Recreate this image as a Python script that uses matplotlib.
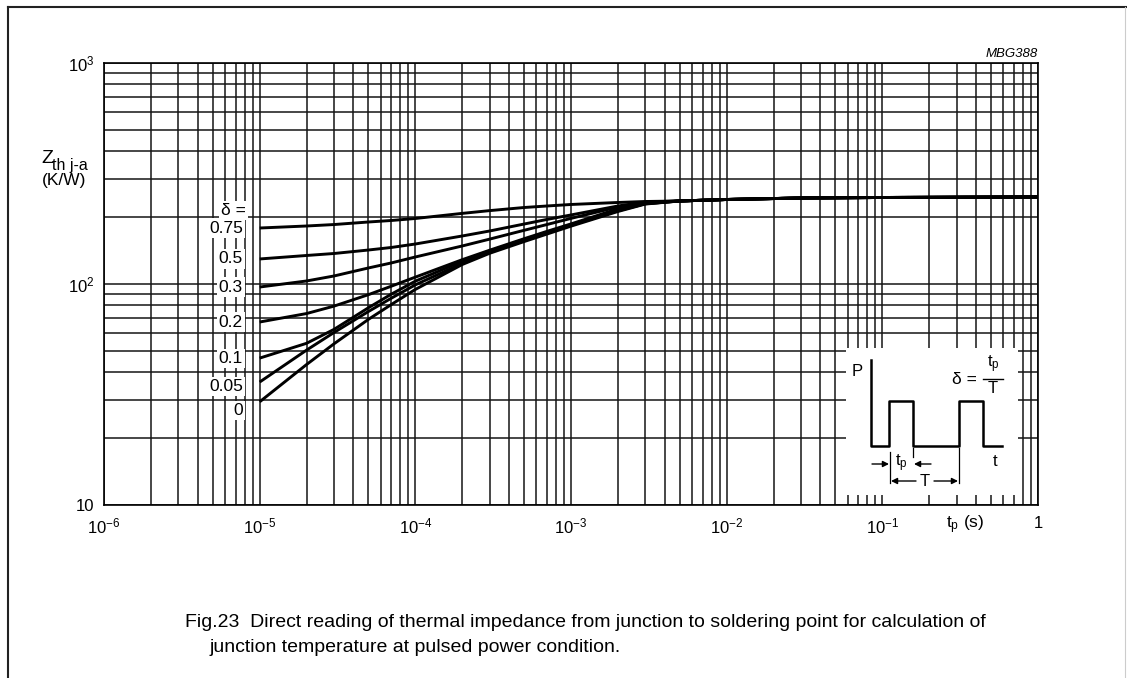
import numpy as np
import matplotlib
matplotlib.use('Agg')
import matplotlib.pyplot as plt
from matplotlib.ticker import LogLocator, NullFormatter
from matplotlib.lines import Line2D

plt.rcParams['font.family'] = ['Liberation Sans', 'DejaVu Sans']
plt.rcParams['mathtext.fontset'] = 'custom'
plt.rcParams['mathtext.rm'] = 'Liberation Sans'
plt.rcParams['mathtext.it'] = 'Liberation Sans:italic'

# pulse time (s) and Zth j-a (K/W) for each duty cycle
tp = [1e-5, 2e-5, 3e-5, 5e-5, 7e-5, 1e-4, 2e-4, 3e-4, 5e-4, 7e-4,
      1e-3, 2e-3, 3e-3, 5e-3, 1e-2, 3e-2, 1e-1, 1.0]
tail = [237.5, 241.2, 245.0, 246.3, 247.6]
z_075 = [179.2, 183.0, 185.8, 190.8, 193.8, 197.9, 208.7, 214.8, 221.9, 225.4, 229.0, 233.8, 236.2] + tail
z_05 = [129.8, 134.6, 137.4, 142.5, 146.3, 151.7, 164.9, 173.7, 186.8, 195.9, 205.3, 225.4, 235.0] + tail
z_03 = [96.9, 103.2, 108.7, 118.2, 124.5, 132.5, 148.6, 159.6, 175.0, 185.8, 198.1, 223.1, 233.8] + tail
z_02 = [67.3, 73.5, 79.4, 89.5, 97.7, 107.4, 128.8, 142.2, 160.3, 173.0, 187.0, 218.8, 232.3] + tail
z_01 = [46.2, 53.9, 62.3, 78.1, 89.9, 103.0, 126.8, 140.9, 157.6, 171.0, 185.5, 215.5, 231.0] + tail
z_005 = [36.0, 50.2, 60.3, 75.1, 86.2, 99.1, 124.0, 139.6, 157.4, 170.2, 184.5, 214.3, 230.7] + tail
z_0 = [29.3, 43.2, 53.6, 69.2, 80.7, 94.5, 122.5, 137.7, 155.6, 168.2, 182.7, 212.8, 230.0] + tail

curves = [z_075, z_05, z_03, z_02, z_01, z_005, z_0]
delta_labels = ['0.75', '0.5', '0.3', '0.2', '0.1', '0.05', '0']
label_shift = [0, 0, 0, 0, 0, -3, -6]

xticks = [1e-6, 1e-5, 1e-4, 1e-3, 1e-2, 1e-1, 1]
xlabels = [r'$\mathregular{10^{-6}}$', r'$\mathregular{10^{-5}}$', r'$\mathregular{10^{-4}}$',
           r'$\mathregular{10^{-3}}$', r'$\mathregular{10^{-2}}$', r'$\mathregular{10^{-1}}$', '1']
yticks = [10, 100, 1000]
ylabels = ['10', r'$\mathregular{10^{2}}$', r'$\mathregular{10^{3}}$']

# schematic of the pulse train in the inset (inset units)
pulse_x = [871, 871, 889, 889, 913, 913, 959, 959, 983, 983, 1002]
pulse_y = [360, 446, 446, 401, 401, 446, 446, 401, 401, 446, 446]

W, H = 1127, 678
fig = plt.figure(figsize=(W / 100, H / 100), dpi=100)


def fx(px):
    return px / W


def fy(py):
    return 1 - py / H


ax = fig.add_axes([fx(104), fy(505), fx(1038) - fx(104), fy(63) - fy(505)])
ax.set_xscale('log')
ax.set_yscale('log')
ax.set_xlim(1e-6, 1)
ax.set_ylim(10, 1000)
for axis in (ax.xaxis, ax.yaxis):
    axis.set_minor_locator(LogLocator(base=10, subs=np.arange(2, 10), numticks=100))
    axis.set_minor_formatter(NullFormatter())
ax.set_xticks(xticks, xlabels)
ax.set_yticks(yticks, ylabels)
ax.tick_params(which='both', length=0, labelsize=12)
ax.tick_params(axis='x', pad=8)
ax.tick_params(axis='y', pad=7)
ax.grid(which='both', color='#151515', lw=1.1)
ax.set_axisbelow(True)
for s in ax.spines.values():
    s.set_linewidth(1.2)

for z in curves:
    ax.plot(tp, z, color='k', lw=2.1, solid_capstyle='butt', solid_joinstyle='round')

lab_x = 7.8e-6
box = dict(facecolor='white', edgecolor='none', pad=1.5)
ax.annotate('δ =', xy=(lab_x, 216), xytext=(2, 0), textcoords='offset points',
            ha='right', va='center', fontsize=12.5, bbox=box)
for z, lab, dy in zip(curves, delta_labels, label_shift):
    ax.annotate(lab, xy=(lab_x, z[0]), xytext=(0, dy), textcoords='offset points',
                ha='right', va='center', fontsize=12.5, bbox=box)

# inset with the pulse definition
ax_in = fig.add_axes([fx(846), fy(495), fx(1018) - fx(846), fy(348) - fy(495)])
ax_in.set_xlim(846, 1018)
ax_in.set_ylim(495, 348)
ax_in.set_facecolor('white')
ax_in.set_xticks([])
ax_in.set_yticks([])
for s in ax_in.spines.values():
    s.set_visible(False)
ax_in.plot(pulse_x, pulse_y, color='k', lw=1.8)
ax_in.text(857, 372, 'P', ha='center', va='center', fontsize=12)
ax_in.text(995, 462, 't', ha='center', va='center', fontsize=12)
ax_in.text(977, 380, 'δ =', ha='right', va='center', fontsize=12.5)
ax_in.plot([983, 1003], [379, 379], color='k', lw=1)
ax_in.text(993, 375, r'$\mathregular{t_p}$', ha='center', va='bottom', fontsize=12)
ax_in.text(993, 381, 'T', ha='center', va='top', fontsize=12)
ax_in.plot([890, 890], [452, 483], color='k', lw=0.9)
ax_in.plot([913, 913], [448, 457], color='k', lw=0.9)
ax_in.plot([959, 959], [448, 483], color='k', lw=0.9)
arr = dict(arrowstyle='-|>', color='k', lw=1.0, mutation_scale=9, shrinkA=0, shrinkB=0)
ax_in.annotate('', xy=(889, 464), xytext=(872, 464), arrowprops=arr)
ax_in.annotate('', xy=(914, 464), xytext=(931, 464), arrowprops=arr)
ax_in.text(901, 463, r'$\mathregular{t_p}$', ha='center', va='center', fontsize=12)
ax_in.annotate('', xy=(891, 481), xytext=(916, 481), arrowprops=arr)
ax_in.annotate('', xy=(958, 481), xytext=(934, 481), arrowprops=arr)
ax_in.text(925, 481, 'T', ha='center', va='center', fontsize=12)

# axis titles
fig.text(fx(41), fy(163), 'Z', ha='left', va='baseline', fontsize=14)
fig.text(fx(52), fy(170), 'th j-a', ha='left', va='baseline', fontsize=11.5)
fig.text(fx(42), fy(185), '(K/W)', ha='left', va='baseline', fontsize=12.5)
fig.text(fx(946), fy(525), r'$\mathregular{t_p}$ (s)', ha='left', va='center', fontsize=12.5)
fig.text(fx(1038), fy(57), 'MBG388', ha='right', va='baseline', fontsize=9.5,
         style='italic')

# caption
fig.text(fx(185), fy(627), 'Fig.23  Direct reading of thermal impedance from junction to soldering point for calculation of',
         ha='left', va='baseline', fontsize=14)
fig.text(fx(210), fy(652), 'junction temperature at pulsed power condition.',
         ha='left', va='baseline', fontsize=14)

# page frame
fig.add_artist(Line2D([fx(8), fx(8)], [fy(7), 0], color='#222222', lw=1.5))
fig.add_artist(Line2D([fx(8), 1], [fy(7), fy(7)], color='#222222', lw=1.5))
fig.add_artist(Line2D([fx(1125), fx(1125)], [fy(7), 0], color='#cccccc', lw=0.8))

fig.savefig('out.png', dpi=100)
